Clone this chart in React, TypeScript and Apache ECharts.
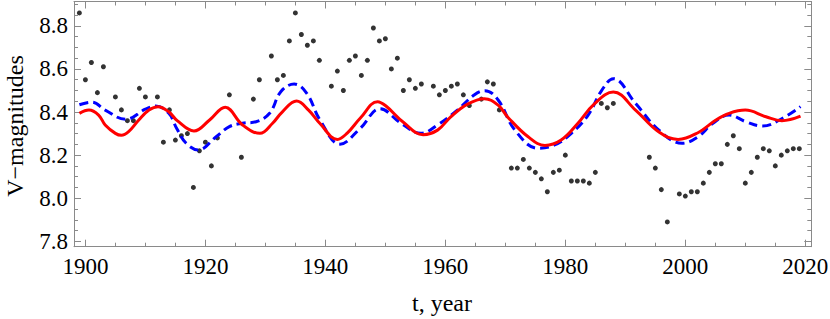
import React, { useEffect, useRef } from "react";
import * as echarts from "echarts";

// Observed V-magnitudes (year, value)
const obsYears = [
  1899, 1900, 1901, 1902, 1903, 1905, 1906, 1907, 1908, 1909, 1910, 1912, 1913, 1914, 1915, 1916, 1917, 1918, 1919, 1920,
  1921, 1922, 1924, 1926, 1928, 1929, 1931, 1932, 1933, 1934, 1935, 1936, 1937, 1938, 1939, 1941, 1942, 1943, 1944, 1945,
  1946, 1947, 1948, 1949, 1950, 1951, 1952, 1953, 1954, 1955, 1956, 1958, 1959, 1960, 1961, 1962, 1963, 1964, 1966, 1967,
  1968, 1969, 1971, 1972, 1973, 1974, 1975, 1976, 1977, 1978, 1979, 1980, 1981, 1982, 1983, 1984, 1985, 1986, 1987, 1988,
  1994, 1995, 1996, 1997, 1999, 2000, 2001, 2002, 2003, 2004, 2005, 2006, 2007, 2008, 2009, 2010, 2011, 2012, 2013, 2014,
  2015, 2016, 2017, 2018, 2019,
];
const obsMags = [
  8.86, 8.55, 8.63, 8.49, 8.61, 8.47, 8.41, 8.36, 8.36, 8.51, 8.47, 8.47, 8.26, 8.41, 8.27, 8.29, 8.3, 8.05, 8.22, 8.26,
  8.15, 8.28, 8.48, 8.19, 8.46, 8.55, 8.66, 8.55, 8.57, 8.73, 8.86, 8.76, 8.71, 8.73, 8.64, 8.52, 8.59, 8.5, 8.64, 8.66,
  8.57, 8.64, 8.79, 8.73, 8.74, 8.6, 8.65, 8.5, 8.55, 8.51, 8.53, 8.52, 8.48, 8.5, 8.52, 8.53, 8.48, 8.43, 8.46, 8.54,
  8.53, 8.41, 8.14, 8.14, 8.18, 8.14, 8.12, 8.09, 8.03, 8.12, 8.13, 8.2, 8.08, 8.08, 8.08, 8.07, 8.12, 8.44, 8.42, 8.44,
  8.19, 8.14, 8.04, 7.89, 8.02, 8.01, 8.03, 8.03, 8.07, 8.12, 8.16, 8.16, 8.25, 8.29, 8.23, 8.07, 8.12, 8.19, 8.23, 8.22,
  8.15, 8.2, 8.22, 8.23, 8.23,
];

// Red solid model curve
const redYears = [
  1899.0, 1900.6, 1902.2, 1903.3, 1905.0, 1906.0, 1907.2, 1908.9, 1910.6, 1912.1, 1913.9, 1915.3, 1918.1, 1920.7, 1923.3,
  1926.2, 1929.1, 1931.2, 1932.8, 1935.2, 1937.2, 1939.1, 1942.0, 1943.6, 1945.8, 1948.7, 1950.1, 1953.1, 1956.3, 1958.7,
  1960.9, 1963.7, 1966.5, 1968.8, 1970.45, 1973.8, 1976.6, 1979.3, 1982.1, 1984.8, 1988.0, 1991.7, 1995.6, 1998.8, 2002.1,
  2005.1, 2007.3, 2010.0, 2013.45, 2016.1, 2019.2,
];
const redMags = [
  8.394, 8.409, 8.386, 8.34, 8.301, 8.292, 8.309, 8.363, 8.409, 8.425, 8.401, 8.36, 8.312, 8.363, 8.422,
  8.34, 8.301, 8.348, 8.4, 8.451, 8.409, 8.347, 8.273, 8.301, 8.371, 8.448, 8.428, 8.35, 8.295, 8.316,
  8.378, 8.437, 8.462, 8.432, 8.375, 8.285, 8.245, 8.27, 8.348, 8.437, 8.493, 8.409, 8.307, 8.273, 8.304,
  8.363, 8.394, 8.409, 8.378, 8.36, 8.381,
];

// Blue dashed model curve
const blueYears = [
  1899.0, 1901.1, 1903.3, 1906.7, 1910.0, 1911.7, 1913.9, 1915.2, 1916.8, 1918.8, 1921.8, 1924.0, 1926.2, 1928.45, 1930.7,
  1932.6, 1934.8, 1936.9, 1939.1, 1942.45, 1945.8, 1949.1, 1952.6, 1955.9, 1958.7, 1962.0, 1964.8, 1966.6, 1968.8, 1971.6,
  1975.45, 1978.2, 1981.0, 1983.8, 1986.1, 1988.0, 1991.7, 1995.6, 1999.45, 2002.1, 2004.6, 2007.3, 2010.1, 2012.9, 2016.2,
  2019.2,
];
const blueMags = [
  8.434, 8.446, 8.409, 8.366, 8.413, 8.428, 8.394, 8.325, 8.255, 8.224, 8.285, 8.332, 8.348, 8.355, 8.394,
  8.495, 8.53, 8.487, 8.363, 8.251, 8.324, 8.415, 8.348, 8.301, 8.34, 8.409, 8.479, 8.499, 8.456, 8.316,
  8.232, 8.247, 8.301, 8.386, 8.502, 8.555, 8.44, 8.316, 8.255, 8.285, 8.348, 8.386, 8.355, 8.335, 8.371,
  8.425,
];

// Tick labels and minor ticks
const xTickLabels = [1900, 1920, 1940, 1960, 1980, 2000, 2020];
const xMinorTicks = [
  1900, 1905, 1910, 1915, 1920, 1925, 1930, 1935, 1940, 1945, 1950, 1955, 1960, 1965, 1970, 1975, 1980, 1985, 1990, 1995,
  2000, 2005, 2010, 2015, 2020,
];
const yTickLabels = [7.8, 8.0, 8.2, 8.4, 8.6, 8.8];
const yMinorTicks = [
  7.8, 7.85, 7.9, 7.95, 8.0, 8.05, 8.1, 8.15, 8.2, 8.25, 8.3, 8.35, 8.4, 8.45, 8.5, 8.55, 8.6, 8.65, 8.7, 8.75, 8.8, 8.85,
  8.9,
];

const X_MIN = 1898.1;
const X_MAX = 2021.0;
const Y_MIN = 7.775;
const Y_MAX = 8.913;

const FONT = "'Liberation Serif', 'Times New Roman', serif";
const FRAME = "#8a8a8a";

function xAxisDef(position: "top" | "bottom", ticks: number[], len: number, labels: boolean, line: boolean) {
  return {
    type: "value",
    position,
    min: X_MIN,
    max: X_MAX,
    axisLine: { show: line, onZero: false, lineStyle: { color: FRAME, width: 1 } },
    axisTick: { show: true, inside: true, length: len, customValues: ticks, lineStyle: { color: FRAME, width: 1 } },
    axisLabel: labels
      ? {
          show: true,
          customValues: ticks,
          color: "#000",
          fontFamily: FONT,
          fontSize: 23,
          margin: 8,
          formatter: (v: number) => String(Math.round(v)),
        }
      : { show: false },
    splitLine: { show: false },
  };
}

function yAxisDef(position: "left" | "right", ticks: number[], len: number, labels: boolean, line: boolean) {
  return {
    type: "value",
    position,
    min: Y_MIN,
    max: Y_MAX,
    axisLine: { show: line, onZero: false, lineStyle: { color: FRAME, width: 1 } },
    axisTick: { show: true, inside: true, length: len, customValues: ticks, lineStyle: { color: FRAME, width: 1 } },
    axisLabel: labels
      ? {
          show: true,
          customValues: ticks,
          color: "#000",
          fontFamily: FONT,
          fontSize: 23,
          margin: 6,
          formatter: (v: number) => v.toFixed(1),
        }
      : { show: false },
    splitLine: { show: false },
  };
}

export default function App() {
  const ref = useRef<HTMLDivElement>(null);

  useEffect(() => {
    document.body.style.margin = "0";
    if (!ref.current) return;
    const chart = echarts.init(ref.current, null, { renderer: "svg" });

    const obs = obsYears.map((y, i) => [y, obsMags[i]]);
    const red = redYears.map((y, i) => [y, redMags[i]]);
    const blue = blueYears.map((y, i) => [y, blueMags[i]]);

    chart.setOption({
      animation: false,
      backgroundColor: "#fff",
      grid: { left: 74, right: 18.7, top: 1.5, bottom: 72.3, containLabel: false, outerBoundsMode: "none" },
      xAxis: [
        xAxisDef("bottom", xTickLabels, 7, true, true),
        xAxisDef("bottom", xMinorTicks, 4, false, false),
        xAxisDef("top", xTickLabels, 7, false, true),
        xAxisDef("top", xMinorTicks, 4, false, false),
      ],
      yAxis: [
        yAxisDef("left", yTickLabels, 7, true, true),
        yAxisDef("left", yMinorTicks, 4, false, false),
        yAxisDef("right", yTickLabels, 7, false, true),
        yAxisDef("right", yMinorTicks, 4, false, false),
      ],
      graphic: [
        {
          type: "text",
          x: 442,
          y: 303,
          style: {
            text: "t, year",
            fontFamily: FONT,
            fontSize: 24,
            fill: "#000",
            align: "center",
            verticalAlign: "middle",
          },
        },
        {
          type: "text",
          x: 15,
          y: 126,
          rotation: Math.PI / 2,
          style: {
            text: "V\u2212magnitudes",
            fontFamily: FONT,
            fontSize: 24,
            fill: "#000",
            align: "center",
            verticalAlign: "middle",
          },
        },
      ],
      series: [
        {
          type: "line",
          data: blue,
          xAxisIndex: 0,
          yAxisIndex: 0,
          smooth: 0.4,
          showSymbol: false,
          lineStyle: { color: "#0000ff", width: 3, type: [9, 5] },
        },
        {
          type: "line",
          data: red,
          xAxisIndex: 0,
          yAxisIndex: 0,
          smooth: 0.4,
          showSymbol: false,
          lineStyle: { color: "#ff0000", width: 3 },
        },
        {
          type: "scatter",
          data: obs,
          xAxisIndex: 0,
          yAxisIndex: 0,
          symbol: "circle",
          symbolSize: 5,
          itemStyle: { color: "#000" },
        },
      ],
    });

    return () => chart.dispose();
  }, []);

  return <div ref={ref} style={{ width: 830, height: 319 }} />;
}
